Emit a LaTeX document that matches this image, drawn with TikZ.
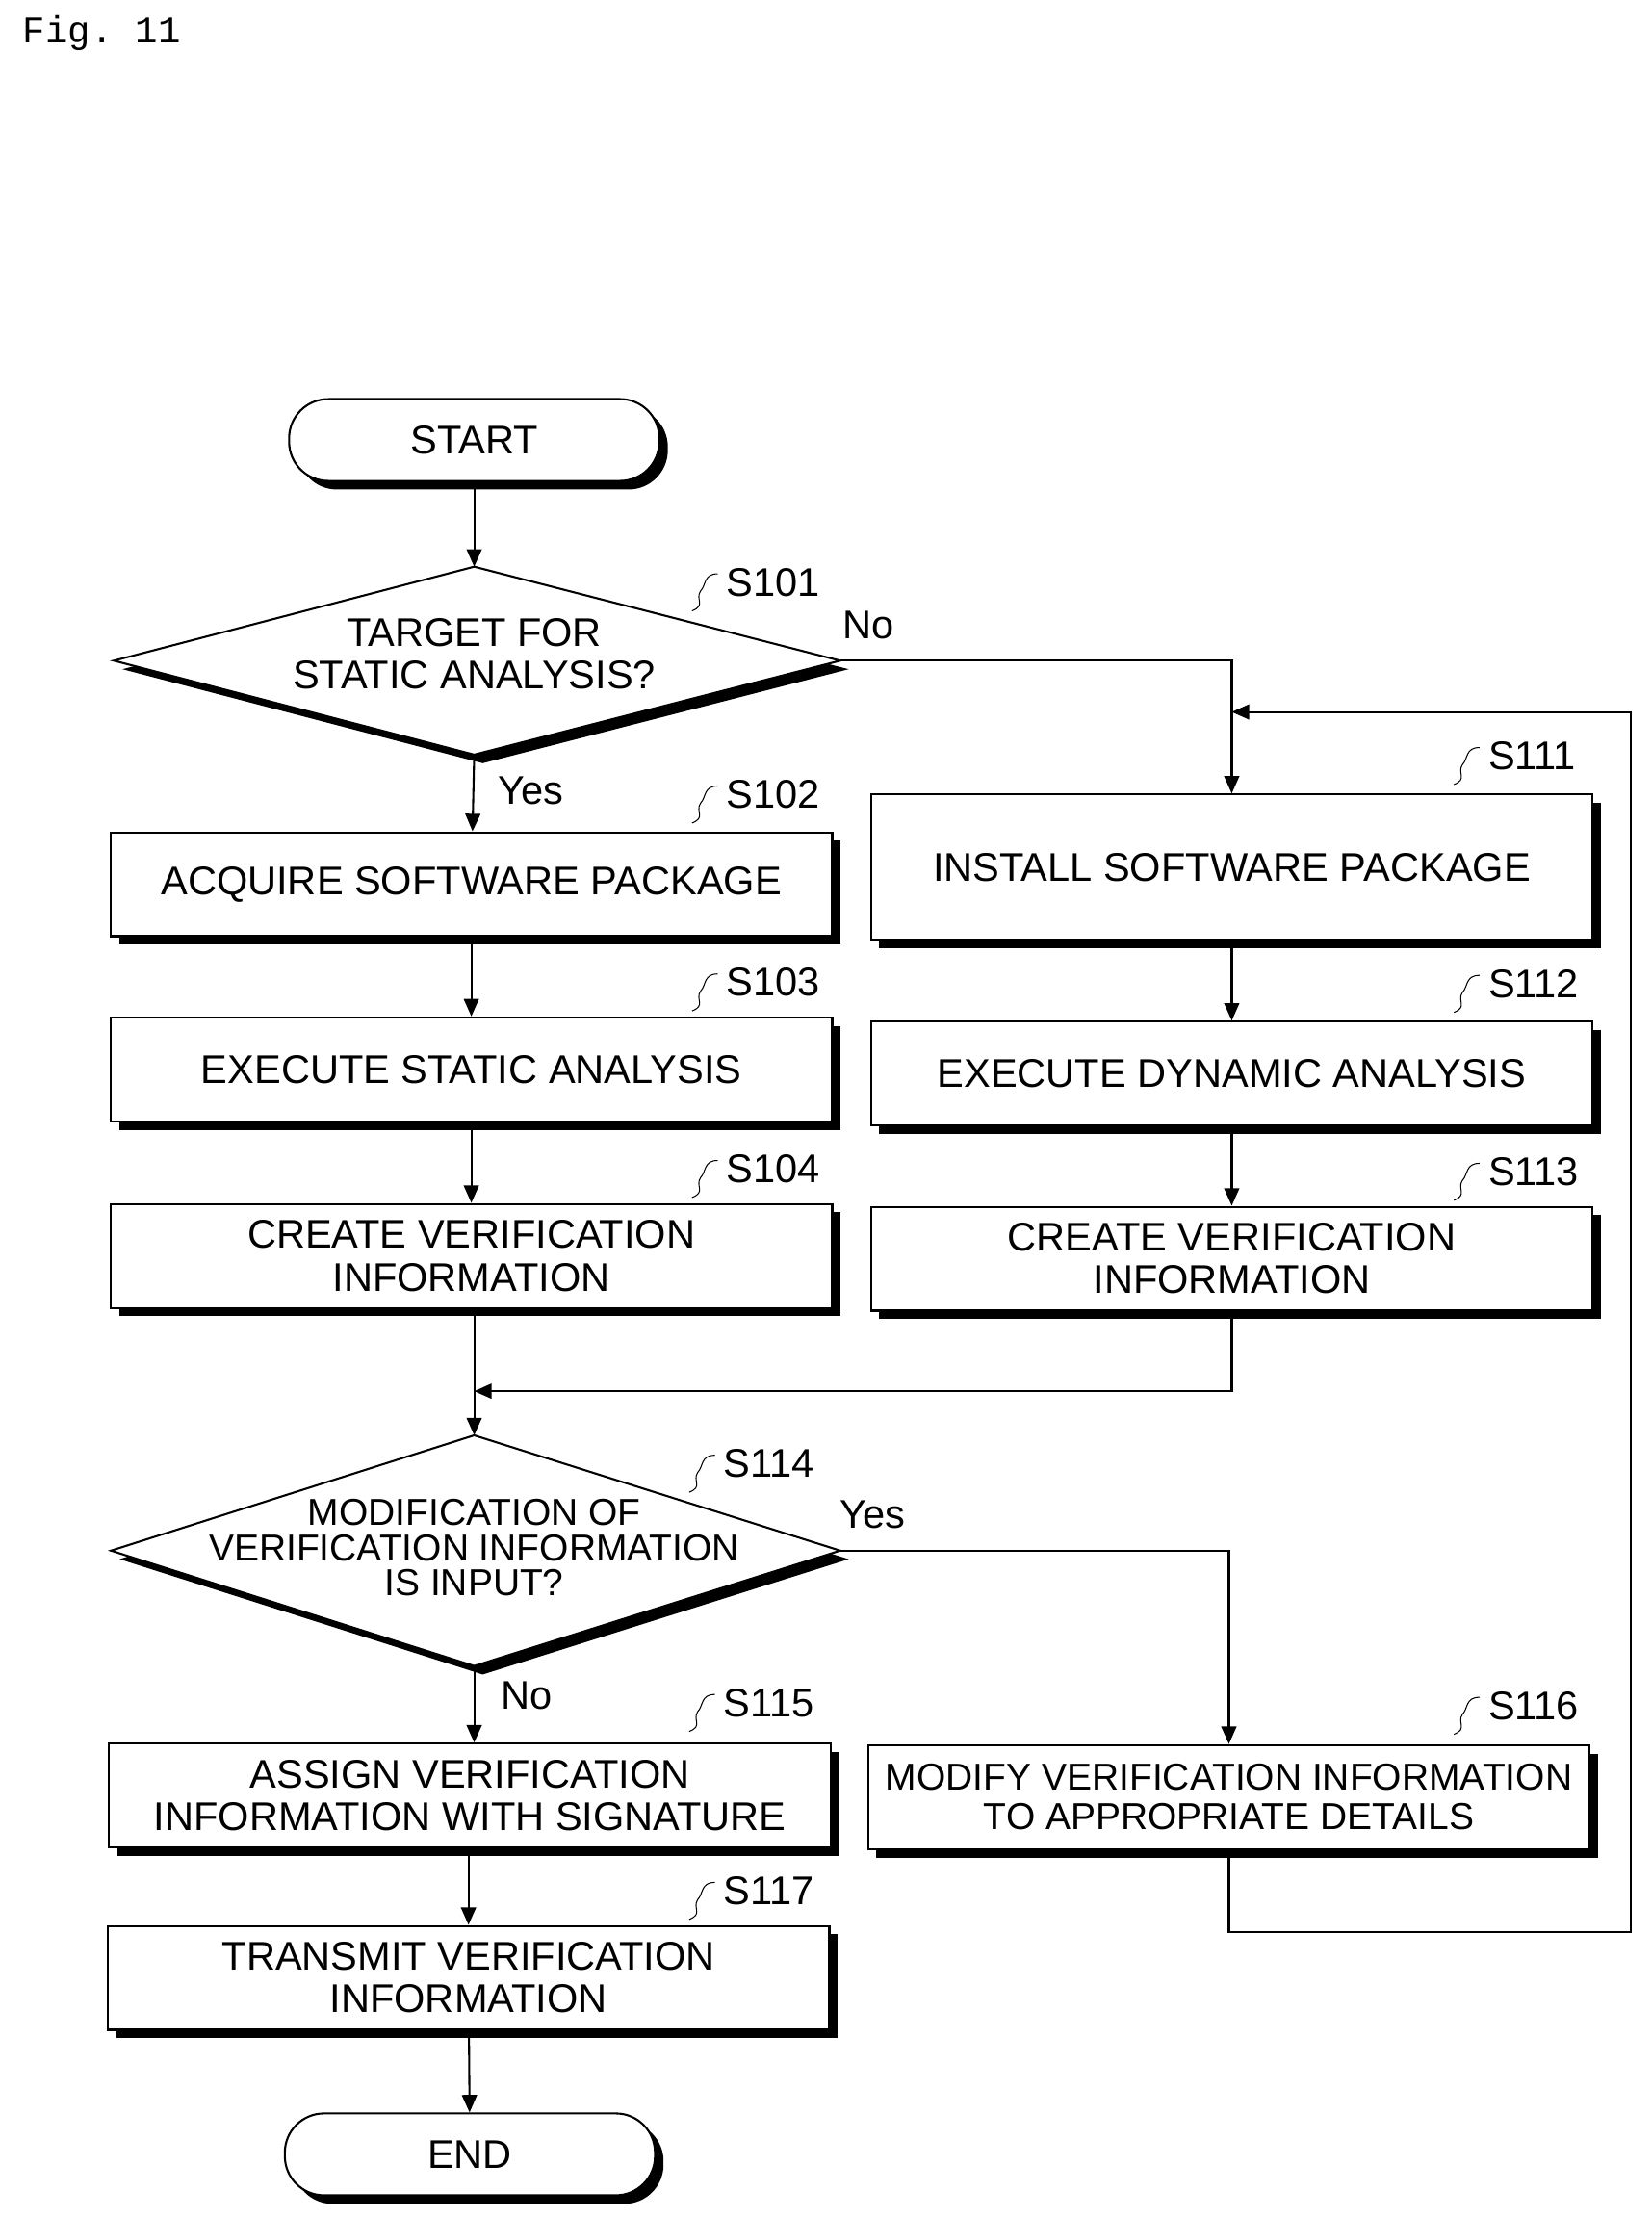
\documentclass[tikz,border=0pt]{standalone}
\usepackage{fontspec}
\setmainfont{Liberation Sans}
\setmonofont{Liberation Mono}
\usetikzlibrary{shadows,arrows.meta}
\begin{document}
\begin{tikzpicture}[x=0.02cm,y=-0.02cm,
  font=\fontsize{16}{17}\selectfont,
  shd/.style={drop shadow={shadow xshift=0.12cm,shadow yshift=-0.12cm,fill=black,opacity=1}},
  box/.style={draw,thick,fill=white,shd,minimum width=10.14cm,minimum height=1.46cm,align=center,inner sep=2pt},
  term/.style={draw,thick,fill=white,shd,rounded corners=0.55cm,minimum width=5.2cm,minimum height=1.15cm},
  lbl/.style={font=\fontsize{16}{17}\selectfont},
  arr/.style={thick,-{Triangle[length=7pt,width=6pt]}},
  ln/.style={thick}]
\useasboundingbox (0,0) rectangle (1160,1557);
\node[font=\ttfamily\fontsize{15}{16}\selectfont,anchor=west] (fig) at (10,23) {Fig. 11};

\node[term] (start) at (333,309) {START};
% diamond 1
\coordinate (d1t) at (333,398); \coordinate (d1b) at (333,530);
\coordinate (d1l) at (80,464); \coordinate (d1r) at (590,464);
\draw[thick,fill=white,shd] (d1t)--(d1r)--(d1b)--(d1l)--cycle;
\node[align=center] (d1) at (333,459) {TARGET FOR\\STATIC ANALYSIS?};

\node[box] (s102) at (331,621) {ACQUIRE SOFTWARE PACKAGE};
\node[box] (s103) at (331,751) {EXECUTE STATIC ANALYSIS};
\node[box] (s104) at (331,882) {CREATE VERIFICATION\\INFORMATION};
\node[box,minimum height=2.04cm] (s111) at (865,609) {INSTALL SOFTWARE PACKAGE};
\node[box] (s112) at (865,754) {EXECUTE DYNAMIC ANALYSIS};
\node[box] (s113) at (865,884) {CREATE VERIFICATION\\INFORMATION};

\coordinate (d2t) at (333,1008); \coordinate (d2b) at (333,1170);
\coordinate (d2l) at (78,1089); \coordinate (d2r) at (590,1089);
\draw[thick,fill=white,shd] (d2t)--(d2r)--(d2b)--(d2l)--cycle;
\node[align=center,inner sep=0pt,font=\fontsize{15}{14}\selectfont] (d2) at (333,1087) {MODIFICATION OF\\VERIFICATION INFORMATION\\IS INPUT?};

\node[box] (s115) at (330,1261) {ASSIGN VERIFICATION\\INFORMATION WITH SIGNATURE};
\node[box,font=\fontsize{15}{16}\selectfont] (s116) at (863,1262) {MODIFY VERIFICATION INFORMATION\\TO APPROPRIATE DETAILS};
\node[box] (s117) at (329,1389) {TRANSMIT VERIFICATION\\INFORMATION};
\node[term] (end) at (330,1513) {END};

% connectors
\draw[arr] (start) -- (d1t);
\draw[arr] (d1b) -- (s102);
\draw[arr] (s102) -- (s103);
\draw[arr] (s103) -- (s104);
\draw[arr] (d1r) -| (s111.north);
\draw[arr] (s111) -- (s112);
\draw[arr] (s112) -- (s113);
\coordinate (m) at (333,977);
\draw[arr] (s113.south) |- (m);
\draw[arr] (s104.south -| d2t) -- (d2t);
\draw[arr] (d2b) -- (s115.north -| d2b);
\draw[arr] (d2r) -| (s116.north);
\draw[arr] (s115.south -| s117.north) -- (s117);
\draw[arr] (s117) -- (end);
\coordinate (lp1) at (1145,1357); \coordinate (lp2) at (1145,500); \coordinate (lp3) at (865,500);
\draw[arr] (s116.south) |- (lp1) -- (lp2) -- (lp3);

% labels
\node[lbl] (yes1) at (373,555) {Yes};
\node[lbl] (no1) at (610,439) {No};
\node[lbl] (yes2) at (613,1064) {Yes};
\node[lbl] (no2) at (370,1191) {No};
\foreach \n/\x/\y in {S101/540/409,S102/540/558,S103/540/690,S104/540/821,S111/1075/531,S112/1075/691,S113/1075/823,S114/538/1028,S115/538/1196,S116/1075/1198,S117/538/1328}{
  \node[lbl,anchor=west] (l\n) at (\x-36,\y) {\n};
  \draw[thin] (\x-36,\y-6) .. controls (\x-46,\y-6) and (\x-44,\y+2) .. (\x-48,\y+6) .. controls (\x-52,\y+12) and (\x-44,\y+16) .. (\x-54,\y+20);
}
\end{tikzpicture}
\end{document}
